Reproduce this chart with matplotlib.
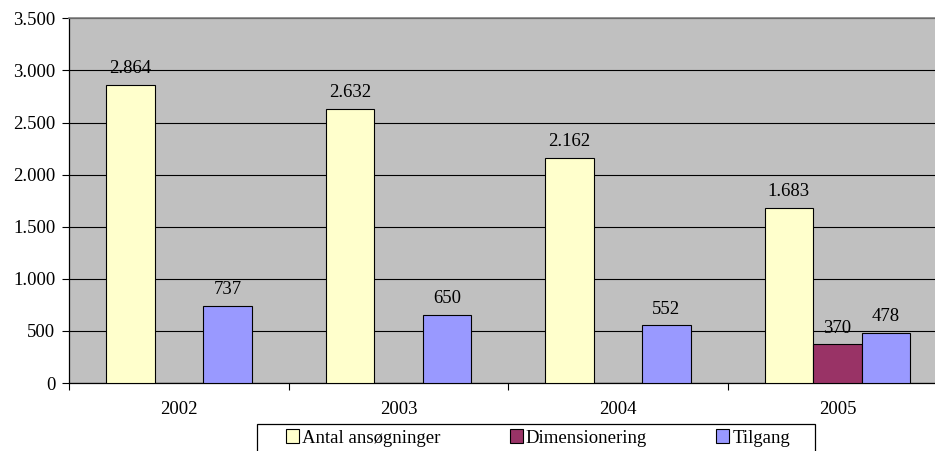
import matplotlib
matplotlib.use("Agg")
import matplotlib.pyplot as plt
import numpy as np
from matplotlib.patches import Rectangle
from matplotlib.ticker import FuncFormatter, MultipleLocator

# ----- Data ---------------------------------------------------------------

years = ["2002", "2003", "2004", "2005"]
ansoegninger = [2864, 2632, 2162, 1683]
dimensionering = [0, 0, 0, 370]
tilgang = [737, 650, 552, 478]

series_names = ["Antal ansøgninger", "Dimensionering", "Tilgang"]
series_colors = ["#FFFFCC", "#993366", "#9999FF"]

plt.rcParams["font.family"] = ["Liberation Serif", "DejaVu Serif"]
FS = 13.5


def dk_thousands(v, _pos=None):
    return f"{int(round(v)):,}".replace(",", ".")


# ----- Plot ---------------------------------------------------------------

W, H = 935, 451
fig = plt.figure(figsize=(W / 100, H / 100), dpi=100)
ax = fig.add_axes([69.3 / W, 1 - 383 / H, 877.8 / W, 364.7 / H])
ax.set_facecolor("#C0C0C0")

x = np.arange(len(years))
bw = 0.221
handles = []
for i, (vals, name, col) in enumerate(
    zip([ansoegninger, dimensionering, tilgang], series_names, series_colors)
):
    bars = ax.bar(x + (i - 1) * bw, vals, bw, color=col, edgecolor="black",
                  linewidth=0.8, label=name, zorder=3)
    handles.append(bars)
    for rect, v in zip(bars, vals):
        if v == 0:
            continue
        ax.annotate(dk_thousands(v),
                    (rect.get_x() + rect.get_width() / 2, v),
                    xytext=(0, 8.5), textcoords="offset points",
                    ha="center", va="baseline", fontsize=FS, zorder=4)

ax.set_xlim(-0.5, len(years) - 0.5)
ax.set_ylim(0, 3500)
ax.yaxis.set_major_locator(MultipleLocator(500))
ax.yaxis.set_major_formatter(FuncFormatter(dk_thousands))
ax.grid(axis="y", color="black", linewidth=0.8, zorder=1)
ax.set_axisbelow(True)

# category boundaries carry the tick marks, centres carry the labels
ax.set_xticks(np.arange(len(years) + 1) - 0.5)
ax.set_xticklabels([])
ax.set_xticks(x, minor=True)
ax.set_xticklabels(years, minor=True, fontsize=FS)
ax.tick_params(axis="x", which="major", length=5, width=0.8, direction="out")
ax.tick_params(axis="x", which="minor", length=0, pad=13)
ax.tick_params(axis="y", length=5, width=0.8, pad=5, labelsize=FS)

for side in ("left", "bottom"):
    ax.spines[side].set_color("black")
    ax.spines[side].set_linewidth(0.9)
ax.spines["top"].set_color("#808080")
ax.spines["top"].set_linewidth(1.2)
ax.spines["right"].set_visible(False)

# legend box (frame drawn separately so the entries can sit like Excel's)
fig.patches.append(Rectangle((257 / W, -0.05), (815 - 257) / W,
                             (1 - 424 / H) + 0.05, transform=fig.transFigure,
                             facecolor="white", edgecolor="black",
                             linewidth=0.9, zorder=0))
fig.legend(handles=handles, labels=series_names, ncol=3, mode="expand",
           loc="center", bbox_to_anchor=(286 / W, 1 - 438 / H, (790 - 286) / W, 0),
           frameon=False, fontsize=FS, handlelength=0.7, handleheight=0.7,
           handletextpad=0.15, borderpad=0, borderaxespad=0)

fig.savefig("out.png", dpi=100)
